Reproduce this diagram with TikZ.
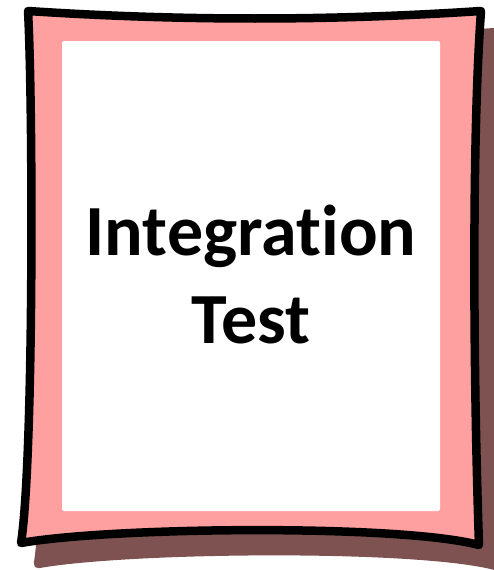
\documentclass[tikz,border=0pt]{standalone}
\usepackage{fontspec}
\setmainfont[RawFeature={-liga}]{Carlito}
\definecolor{pinkfill}{RGB}{255,160,160}
\definecolor{shadowc}{RGB}{127,82,82}
\tikzset{
  framestyle/.style={line width=8.5pt, line join=round},
  titletext/.style={font=\bfseries\fontsize{72}{88}\selectfont, inner sep=0pt, anchor=base},
}
\begin{document}
\begin{tikzpicture}[x=1pt,y=-1pt]
\useasboundingbox (0,0) rectangle (493,570);
\begin{scope}[shift={(17,21)}]
\filldraw[framestyle, draw=shadowc, fill=shadowc] (28,11) .. controls (180,21) and (330,21) .. (481,11) .. controls (471,150) and (474,400) .. (479,545) .. controls (400,524) and (110,527) .. (21,543) .. controls (34,460) and (33,100) .. (28,11) -- cycle;
\end{scope}
\filldraw[framestyle, draw=black, fill=pinkfill] (28,11) .. controls (180,21) and (330,21) .. (481,11) .. controls (471,150) and (474,400) .. (479,545) .. controls (400,524) and (110,527) .. (21,543) .. controls (34,460) and (33,100) .. (28,11) -- cycle;
\fill[white, rounded corners=2pt] (62,41) rectangle (440,511);
\node[titletext] (title1) at (251,255) {Integration};
\node[titletext] (title2) at (251,343) {Test};
\end{tikzpicture}
\end{document}
